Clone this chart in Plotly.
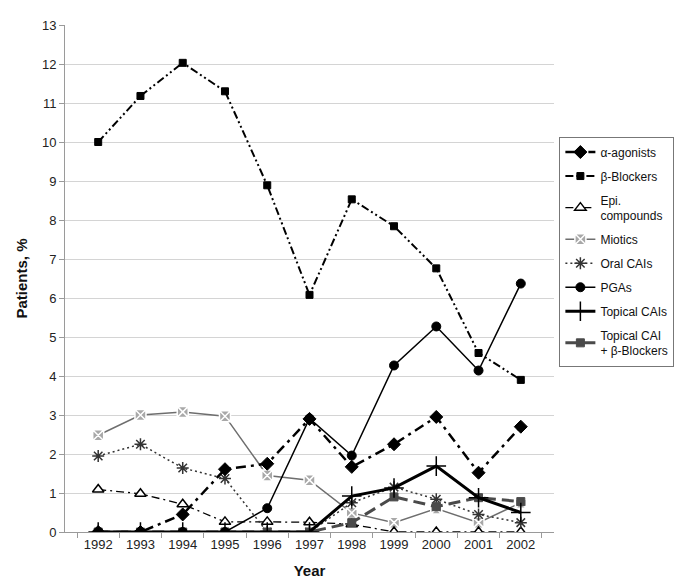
import plotly.graph_objects as go

years = ["1992", "1993", "1994", "1995", "1996", "1997", "1998", "1999", "2000", "2001", "2002"]

alpha_agonists = [0, 0, 0.45, 1.61, 1.75, 2.9, 1.67, 2.25, 2.95, 1.52, 2.70]
beta_blockers = [10.0, 11.18, 12.03, 11.3, 8.89, 6.08, 8.53, 7.84, 6.76, 4.59, 3.9]
epi_compounds = [1.09, 0.98, 0.71, 0.26, 0.26, 0.25, 0.2, 0, 0, 0, 0]
miotics = [2.48, 3.0, 3.08, 2.97, 1.45, 1.33, 0.49, 0.24, 0.6, 0.24, 0.75]
oral_cais = [1.95, 2.25, 1.64, 1.37, 0, 0, 0.75, 1.15, 0.84, 0.45, 0.24]
pgas = [0, 0, 0, 0, 0.61, 2.91, 1.96, 4.27, 5.27, 4.14, 6.37]
topical_cais = [0, 0, 0, 0, 0, 0, 0.92, 1.13, 1.69, 0.88, 0.5]
tcai_bb = [0, 0, 0, 0, 0, 0, 0.24, 0.9, 0.65, 0.88, 0.78]

names = ["α-agonists", "β-Blockers", "Epi.<br>compounds", "Miotics", "Oral CAIs",
         "PGAs", "Topical CAIs", "Topical CAI<br>+ β-Blockers"]

fig = go.Figure()

def add(y, name, rank, color, width, dash, symbol, msize, mcolor, mline_color, mline_width):
    fig.add_trace(go.Scatter(
        x=years, y=y, name=name, mode="lines+markers",
        line=dict(color=color, width=width, dash=dash),
        marker=dict(symbol=symbol, size=msize, color=mcolor,
                    line=dict(color=mline_color, width=mline_width)),
        legendgroup="g%d" % rank, legendrank=rank,
    ))

add(miotics, names[3], 4, "#6e6e6e", 1.5, "solid", "square-x", 11, "#a8a8a8", "#ffffff", 1.5)
add(epi_compounds, names[2], 3, "#000000", 1.3, "8px,4px,2px,4px", "triangle-up", 10, "#ffffff", "#000000", 1.5)
add(oral_cais, names[4], 5, "#333333", 1.5, "2px,3px", "asterisk-open", 10, "#333333", "#333333", 1.5)
add(tcai_bb, names[7], 8, "#4a4a4a", 3, "12px,6px", "square", 8, "#4a4a4a", "#4a4a4a", 1)
add(topical_cais, names[6], 7, "#000000", 3, "solid", "cross-thin-open", 14, "#000000", "#000000", 1.5)
add(pgas, names[5], 6, "#000000", 1.5, "solid", "circle", 9, "#000000", "#000000", 1)
add(beta_blockers, names[1], 2, "#000000", 2, "8px,3px,2px,3px,2px,3px", "square", 7, "#000000", "#000000", 1)
add(alpha_agonists, names[0], 1, "#000000", 2.5, "10px,5px,3px,5px", "diamond", 10, "#000000", "#000000", 1)

fig.update_layout(
    width=694, height=582,
    margin=dict(l=57, r=148, t=17, b=58, autoexpand=False),
    paper_bgcolor="white", plot_bgcolor="white",
    font=dict(family="Liberation Sans, Arial, sans-serif", size=13, color="#222222"),
    legend=dict(
        x=1.011, y=0.78, xanchor="left", yanchor="top",
        bordercolor="#777777", borderwidth=1, bgcolor="white",
        font=dict(size=12, color="#111111"),
        traceorder="grouped", tracegroupgap=5,
    ),
    xaxis=dict(
        type="category", showgrid=False, showline=True, linecolor="#9a9a9a",
        ticks="outside", ticklen=5, tickcolor="#9a9a9a", tickson="boundaries",
        title=dict(text="<b>Year</b>", font=dict(size=15, color="#111111"), standoff=14),
        zeroline=False, automargin=False,
    ),
    yaxis=dict(
        range=[0, 13], dtick=1, showgrid=True, gridcolor="#d4d4d4", gridwidth=1,
        showline=True, linecolor="#9a9a9a", ticks="outside", ticklen=5, tickcolor="#9a9a9a",
        zeroline=False, automargin=False,
        title=dict(text="<b>Patients, %</b>", font=dict(size=15, color="#111111"), standoff=10),
    ),
)

fig.write_html("out.html")
